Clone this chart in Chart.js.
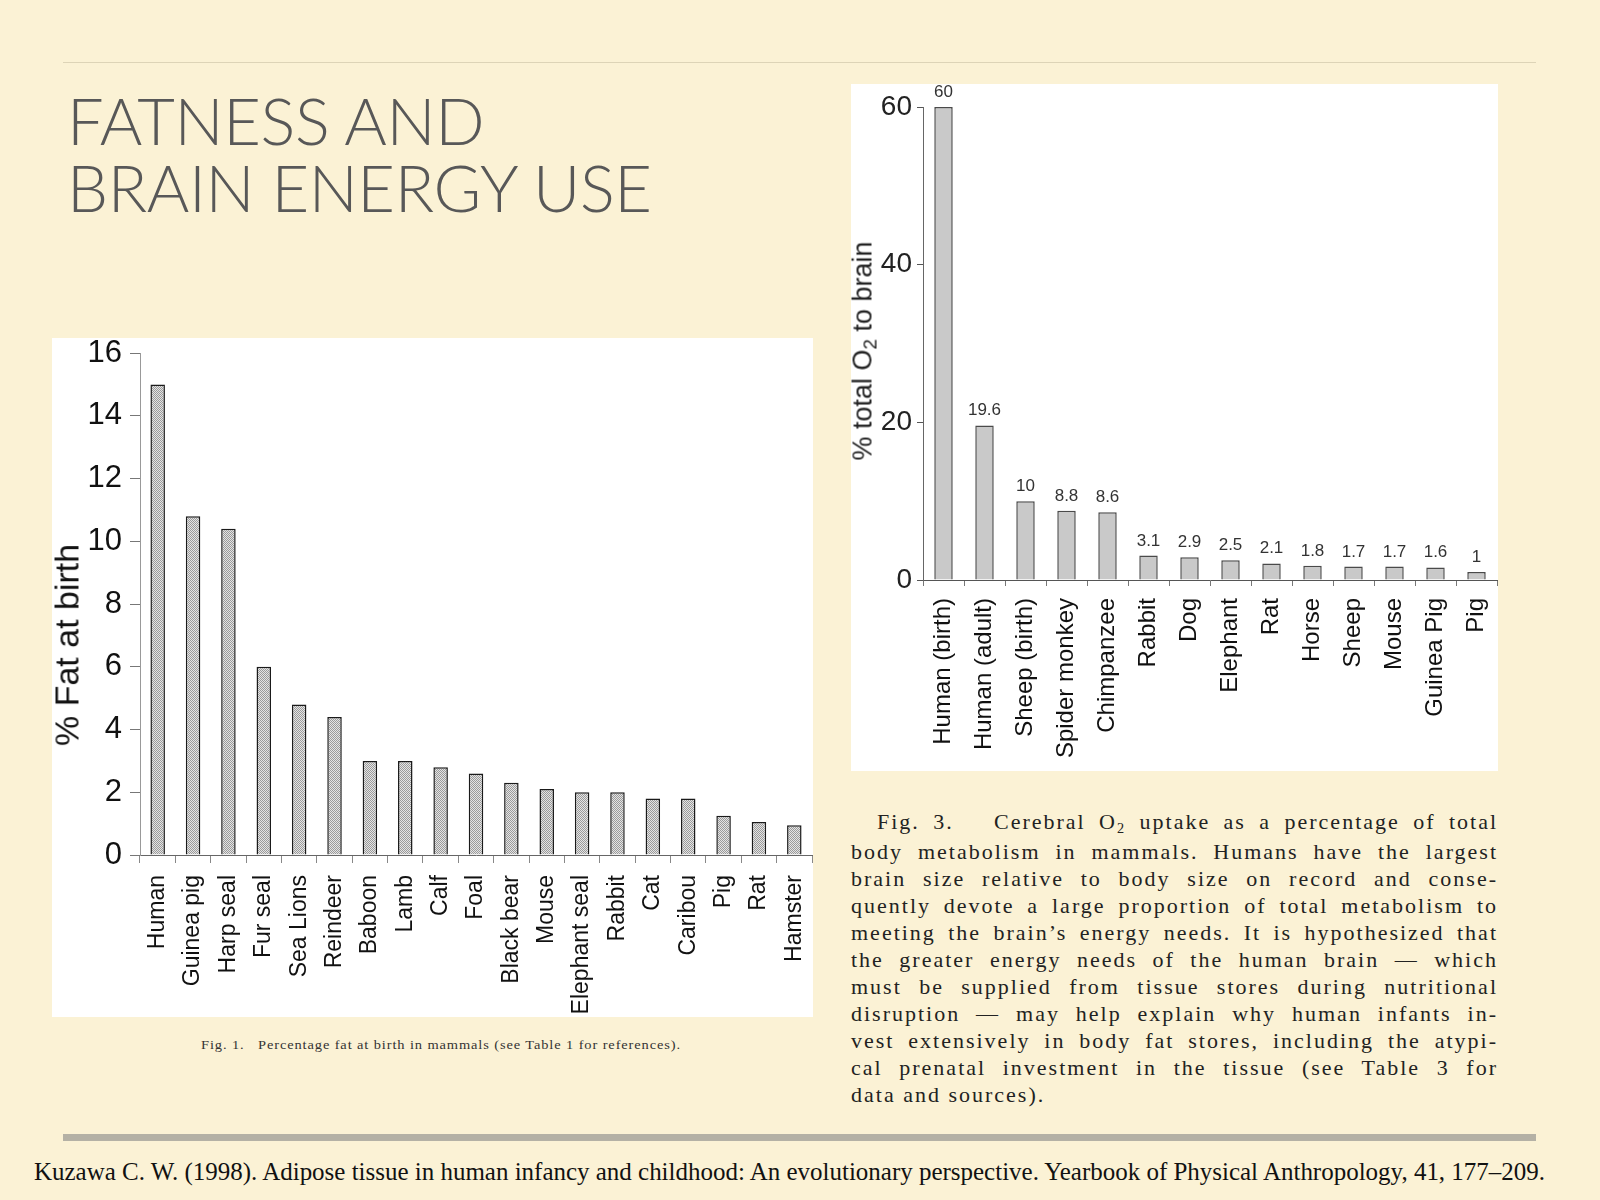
<!DOCTYPE html>
<html lang="en">
<head>
    <meta charset="UTF-8">
    <title>Fatness and brain energy use</title>
    <script src="https://cdn.jsdelivr.net/npm/chart.js@4.4.1/dist/chart.umd.min.js"></script>
    <style>
        html, body { margin: 0; padding: 0; }
        body { width: 1600px; height: 1200px; position: relative; background: #fbf2d5; overflow: hidden; }
        .rule-top { position: absolute; left: 63px; top: 62px; width: 1473px; height: 1px; background: #ddd4b7; }
        .rule-bottom { position: absolute; left: 63px; top: 1134px; width: 1473px; height: 7px; background: #b4b1a5; }
        .title { position: absolute; left: 67px; font-family: Lato, "Open Sans", sans-serif; font-weight: 300;
                 font-size: 65px; color: #585858; white-space: nowrap; line-height: 1; letter-spacing: -0.4px; }
        .panel { position: absolute; background: #fff; }
        .ytitle { position: absolute; font-family: "Liberation Sans", Arial, sans-serif; white-space: nowrap;
                  transform: translate(-50%, -50%) rotate(-90deg); }
        .ytitle sub { font-size: 70%; vertical-align: baseline; position: relative; top: 0.25em; }
        .fit { position: absolute; white-space: nowrap; transform-origin: 0 50%; font-family: "Liberation Serif", serif; }
        .fig1 { left: 201px; top: 1037px; font-size: 13px; color: #333; letter-spacing: 0.8px; }
        .fig3 { position: absolute; left: 851px; top: 808px; width: 647px; font-family: "Liberation Serif", serif;
                font-size: 22px; line-height: 27px; color: #222; letter-spacing: 2px; }
        .fig3 div { white-space: nowrap; text-align: justify; text-align-last: justify; }
        .fig3 div.last { text-align-last: left; }
        .fig3 sub { font-size: 65%; vertical-align: baseline; position: relative; top: 0.3em; }
        .cite { left: 34px; top: 1158px; font-size: 25px; color: #111; }
    </style>
</head>
<body>

    <div class="rule-top"></div>
    <div class="title" style="top: 88px;">FATNESS AND</div>
    <div class="title" style="top: 155px;">BRAIN ENERGY USE</div>

    <div class="panel" style="left: 52px; top: 338px; width: 761px; height: 679px;">
        <canvas id="fatChart" width="761" height="679"></canvas>
    </div>
    <div class="ytitle" style="left: 67px; top: 645px; font-size: 34px; color: #111;">% Fat at birth</div>
    <span class="fit fig1" data-w="480">Fig. 1.&nbsp;&nbsp; Percentage fat at birth in mammals (see Table 1 for references).</span>

    <div class="panel" style="left: 851px; top: 84px; width: 647px; height: 687px;">
        <canvas id="o2Chart" width="647" height="687"></canvas>
    </div>
    <div class="ytitle" style="left: 863px; top: 351px; font-size: 27px; color: #222;">% total O<sub>2</sub> to brain</div>

    <div class="fig3">
        <div style="padding-left: 26px;">Fig. 3.&nbsp;&nbsp; Cerebral O<sub>2</sub> uptake as a percentage of total</div>
        <div>body metabolism in mammals. Humans have the largest</div>
        <div>brain size relative to body size on record and conse-</div>
        <div>quently devote a large proportion of total metabolism to</div>
        <div>meeting the brain’s energy needs. It is hypothesized that</div>
        <div>the greater energy needs of the human brain — which</div>
        <div>must be supplied from tissue stores during nutritional</div>
        <div>disruption — may help explain why human infants in-</div>
        <div>vest extensively in body fat stores, including the atypi-</div>
        <div>cal prenatal investment in the tissue (see Table 3 for</div>
        <div class="last">data and sources).</div>
    </div>

    <div class="rule-bottom"></div>
    <span class="fit cite" data-w="1511">Kuzawa C. W. (1998). Adipose tissue in human infancy and childhood: An evolutionary perspective. Yearbook of Physical Anthropology, 41, 177–209.</span>

    <script>
        // Fig. 1 - percentage fat at birth
        var fatLabels = ['Human', 'Guinea pig', 'Harp seal', 'Fur seal', 'Sea Lions', 'Reindeer', 'Baboon', 'Lamb',
            'Calf', 'Foal', 'Black bear', 'Mouse', 'Elephant seal', 'Rabbit', 'Cat', 'Caribou', 'Pig', 'Rat', 'Hamster'];
        var fatValues = [15, 10.8, 10.4, 6, 4.8, 4.4, 3, 3, 2.8, 2.6, 2.3, 2.1, 2, 2, 1.8, 1.8, 1.25, 1.05, 0.95];
        var fatTicks = [0, 2, 4, 6, 8, 10, 12, 14, 16];

        // Fig. 3 - % of total O2 going to the brain
        var o2Labels = ['Human (birth)', 'Human (adult)', 'Sheep (birth)', 'Spider monkey', 'Chimpanzee', 'Rabbit',
            'Dog', 'Elephant', 'Rat', 'Horse', 'Sheep', 'Mouse', 'Guinea Pig', 'Pig'];
        var o2Values = [60, 19.6, 10, 8.8, 8.6, 3.1, 2.9, 2.5, 2.1, 1.8, 1.7, 1.7, 1.6, 1];
        var o2Ticks = [0, 20, 40, 60];

        var sans = '"Liberation Sans", Arial, sans-serif';

        // stretch the scanned-looking captions to the width they have in the slide
        document.querySelectorAll('.fit').forEach(function (el) {
            var w = el.getBoundingClientRect().width;
            el.style.transform = 'scaleX(' + (el.dataset.w / w) + ')';
        });

        // stippled fill like the scanned figure
        function stipple() {
            var c = document.createElement('canvas');
            c.width = 2; c.height = 2;
            var g = c.getContext('2d');
            g.fillStyle = '#e4e4e4';
            g.fillRect(0, 0, 2, 2);
            g.fillStyle = '#9a9a9a';
            g.fillRect(0, 0, 1, 1);
            g.fillRect(1, 1, 1, 1);
            return g.createPattern(c, 'repeat');
        }

        var valueLabels = {
            id: 'valueLabels',
            afterDatasetsDraw: function (chart) {
                var ctx = chart.ctx;
                var meta = chart.getDatasetMeta(0);
                ctx.save();
                ctx.font = '17px ' + sans;
                ctx.fillStyle = '#333';
                ctx.textAlign = 'center';
                ctx.textBaseline = 'alphabetic';
                meta.data.forEach(function (bar, i) {
                    ctx.fillText(String(o2Values[i]), bar.x, bar.y - 10);
                });
                ctx.restore();
            }
        };

        // fixed axis sizes, no extra room for overhanging labels
        function fixX(h) {
            return function (s) { s.height = h; s.paddingLeft = 0; s.paddingRight = 0; };
        }
        function fixY(w) {
            return function (s) { s.width = w; s.paddingTop = 0; s.paddingBottom = 0; };
        }

        function createFatChart() {
            var ctx = document.getElementById('fatChart').getContext('2d');
            new Chart(ctx, {
                type: 'bar',
                data: {
                    labels: fatLabels,
                    datasets: [{
                        data: fatValues,
                        backgroundColor: stipple(),
                        borderColor: '#1a1a1a',
                        borderWidth: 1.5,
                        categoryPercentage: 1,
                        barPercentage: 0.41
                    }]
                },
                options: {
                    responsive: false,
                    animation: false,
                    layout: { padding: { top: 15, right: 1, left: 0, bottom: 0 } },
                    plugins: { legend: { display: false }, tooltip: { enabled: false } },
                    scales: {
                        x: {
                            grid: { drawOnChartArea: false, offset: true, tickLength: 8, color: '#888' },
                            border: { color: '#666' },
                            ticks: { autoSkip: false, minRotation: 90, maxRotation: 90, padding: 12, color: '#111',
                                font: { family: sans, size: 23 } },
                            afterFit: fixX(162)
                        },
                        y: {
                            min: fatTicks[0],
                            max: fatTicks[fatTicks.length - 1],
                            afterBuildTicks: function (s) { s.ticks = fatTicks.map(function (v) { return { value: v }; }); },
                            ticks: { padding: 8, color: '#111', font: { family: sans, size: 31 } },
                            grid: { drawOnChartArea: false, tickLength: 10, color: '#777' },
                            border: { color: '#999', dash: [3, 2] },
                            afterFit: fixY(88)
                        }
                    }
                }
            });
        }

        function createO2Chart() {
            var ctx = document.getElementById('o2Chart').getContext('2d');
            new Chart(ctx, {
                type: 'bar',
                data: {
                    labels: o2Labels,
                    datasets: [{
                        data: o2Values,
                        backgroundColor: '#c9c9c9',
                        borderColor: '#4a4a4a',
                        borderWidth: 1.5,
                        categoryPercentage: 1,
                        barPercentage: 0.45
                    }]
                },
                options: {
                    responsive: false,
                    animation: false,
                    layout: { padding: { top: 23, right: 1, left: 0, bottom: 0 } },
                    plugins: { legend: { display: false }, tooltip: { enabled: false } },
                    scales: {
                        x: {
                            grid: { drawOnChartArea: false, offset: true, tickLength: 6, color: '#777' },
                            border: { color: '#555' },
                            ticks: { autoSkip: false, minRotation: 90, maxRotation: 90, padding: 12, color: '#111',
                                font: { family: sans, size: 24 } },
                            afterFit: fixX(191)
                        },
                        y: {
                            min: o2Ticks[0],
                            max: o2Ticks[o2Ticks.length - 1],
                            afterBuildTicks: function (s) { s.ticks = o2Ticks.map(function (v) { return { value: v }; }); },
                            ticks: { padding: 5, color: '#222', font: { family: sans, size: 28 } },
                            grid: { drawOnChartArea: false, tickLength: 6, color: '#555' },
                            border: { color: '#666' },
                            afterFit: fixY(72)
                        }
                    }
                },
                plugins: [valueLabels]
            });
        }

        createFatChart();
        createO2Chart();
    </script>

</body>
</html>
